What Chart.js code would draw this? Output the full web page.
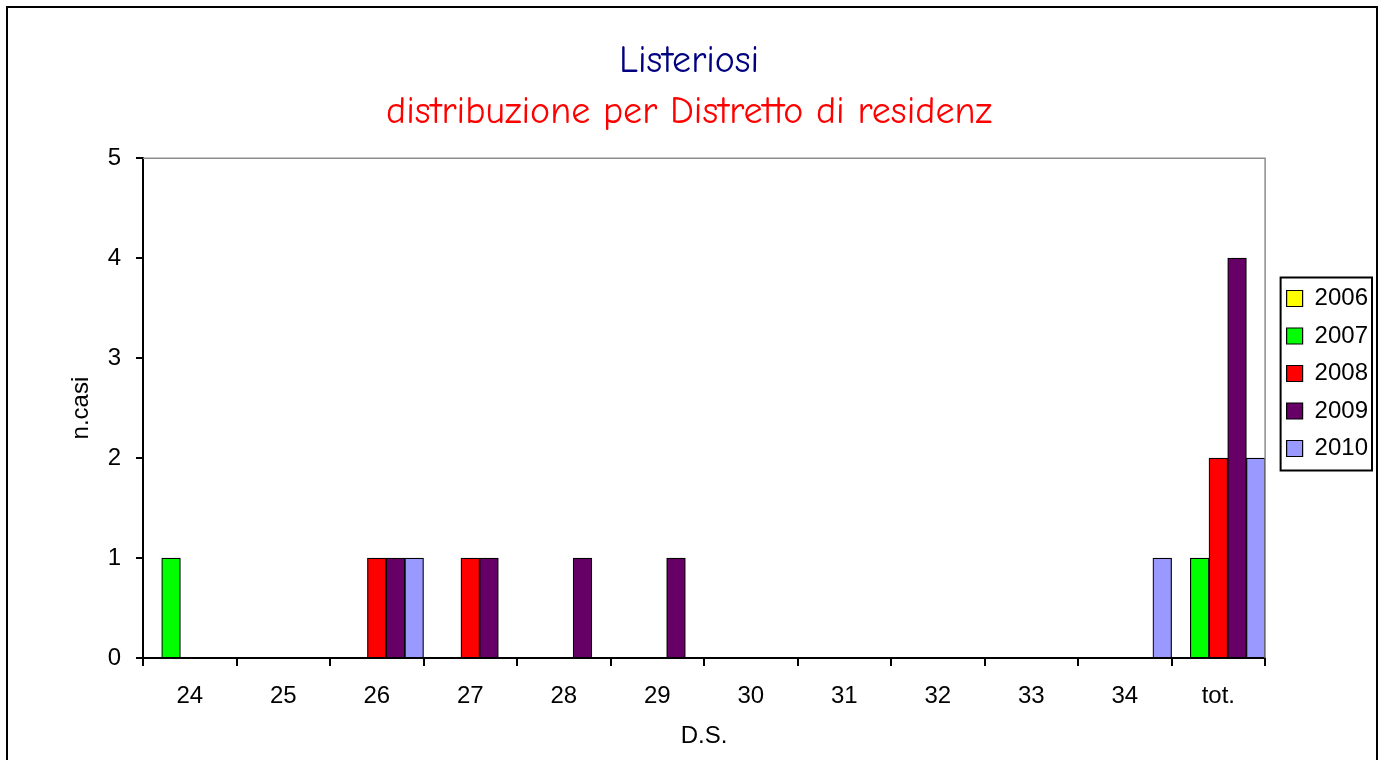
<!DOCTYPE html>
<html>
<head>
<meta charset="utf-8">
<script src="https://cdn.jsdelivr.net/npm/chart.js@4.4.1/dist/chart.umd.min.js"></script>
<style>
  html, body { margin: 0; padding: 0; background: #fff; }
  #wrap { width: 1382px; height: 760px; }
</style>
</head>
<body>
<div id="wrap"><canvas id="chart" width="1382" height="760"></canvas></div>
<script>
// categories (Distretto) and yearly counts
const districts = ["24", "25", "26", "27", "28", "29", "30", "31", "32", "33", "34", "tot."]
const years = ["2006", "2007", "2008", "2009", "2010"]
const cases2006 = [0, 0, 0, 0, 0, 0, 0, 0, 0, 0, 0, 0]
const cases2007 = [1, 0, 0, 0, 0, 0, 0, 0, 0, 0, 0, 1]
const cases2008 = [0, 0, 1, 1, 0, 0, 0, 0, 0, 0, 0, 2]
const cases2009 = [0, 0, 1, 1, 1, 1, 0, 0, 0, 0, 0, 4]
const cases2010 = [0, 0, 1, 0, 0, 0, 0, 0, 0, 0, 1, 2]
const yTicks = [0, 1, 2, 3, 4, 5]

const seriesColors = ["#FFFF00", "#00FF00", "#FF0000", "#660066", "#9999FF"]
const seriesValues = [cases2006, cases2007, cases2008, cases2009, cases2010]

const axisFont = { family: "Arial, 'Liberation Sans', sans-serif", size: 24 }
const titleFamily = "'Comic Sans MS', 'Comic Neue', 'DejaVu Sans', sans-serif"

// white background, outer frame, grey plot border, legend box
const framePlugin = {
    id: "frame",
    beforeDraw(chart) {
        const ctx = chart.ctx
        ctx.save()
        ctx.fillStyle = "#fff"
        ctx.fillRect(0, 0, chart.width, chart.height)
        ctx.restore()
    },
    afterDraw(chart) {
        const ctx = chart.ctx
        const area = chart.chartArea
        ctx.save()
        ctx.strokeStyle = "#000"
        ctx.lineWidth = 2
        ctx.strokeRect(7, 7, 1370, 900)

        ctx.strokeStyle = "#8c8c8c"
        ctx.lineWidth = 1.5
        ctx.beginPath()
        ctx.moveTo(area.left, area.top)
        ctx.lineTo(area.right, area.top)
        ctx.lineTo(area.right, area.bottom)
        ctx.stroke()

        const boxes = chart.legend.legendHitBoxes
        if (boxes && boxes.length) {
            const left = Math.min(...boxes.map(b => b.left)) - 6
            const right = Math.max(...boxes.map(b => b.left + b.width)) + 4
            const top = boxes[0].top - 9
            const bottom = boxes[boxes.length - 1].top + boxes[boxes.length - 1].height + 10
            ctx.strokeStyle = "#000"
            ctx.lineWidth = 2
            ctx.strokeRect(left, top, right - left, bottom - top)
        }
        ctx.restore()
    }
}

new Chart(document.getElementById("chart"), {
    type: "bar",
    data: {
        labels: districts,
        datasets: years.map((year, i) => ({
            label: year,
            data: seriesValues[i],
            backgroundColor: seriesColors[i],
            borderColor: "#000",
            borderWidth: 1.2,
            borderSkipped: "bottom",
            barPercentage: 1,
            categoryPercentage: 1
        }))
    },
    options: {
        responsive: false,
        animation: false,
        layout: { padding: { left: 0, right: 4, top: 0, bottom: 13 } },
        plugins: {
            title: {
                display: true,
                text: "Listeriosi",
                color: "#000080",
                font: { family: titleFamily, size: 38, weight: "normal" },
                padding: { top: 38, bottom: 0 }
            },
            subtitle: {
                display: true,
                text: "distribuzione per Distretto di residenz",
                color: "#FF0000",
                font: { family: titleFamily, size: 38, weight: "normal" },
                padding: { top: 6, bottom: 23 }
            },
            legend: {
                position: "right",
                labels: {
                    color: "#000",
                    font: axisFont,
                    boxWidth: 16,
                    boxHeight: 16,
                    padding: 13.5
                }
            },
            tooltip: { enabled: false }
        },
        scales: {
            x: {
                offset: true,
                grid: {
                    offset: true,
                    drawOnChartArea: false,
                    drawTicks: true,
                    tickLength: 8,
                    color: "#000",
                    lineWidth: 2
                },
                border: { color: "#000", width: 2 },
                ticks: { color: "#000", font: axisFont, padding: 16, maxRotation: 0 },
                title: {
                    display: true,
                    text: "D.S.",
                    color: "#000",
                    font: axisFont,
                    padding: { top: 0, bottom: -4 }
                },
                afterFit(scale) { scale.height = 89 }
            },
            y: {
                min: 0,
                max: 5,
                afterBuildTicks(scale) { scale.ticks = yTicks.map(v => ({ value: v })) },
                grid: {
                    drawOnChartArea: false,
                    drawTicks: true,
                    tickLength: 7,
                    color: "#000",
                    lineWidth: 2
                },
                border: { color: "#000", width: 2 },
                ticks: { color: "#000", font: axisFont, padding: 15 },
                title: {
                    display: true,
                    text: "n.casi",
                    color: "#000",
                    font: axisFont,
                    padding: { top: 67, bottom: 0 }
                },
                afterFit(scale) { scale.width = 143 }
            },
            // empty spacer between plot area and legend
            gap: {
                position: "right",
                display: true,
                grid: { display: false },
                border: { display: false },
                ticks: { display: false },
                afterFit(scale) { scale.width = 8 }
            }
        }
    },
    plugins: [framePlugin]
})
</script>
</body>
</html>
